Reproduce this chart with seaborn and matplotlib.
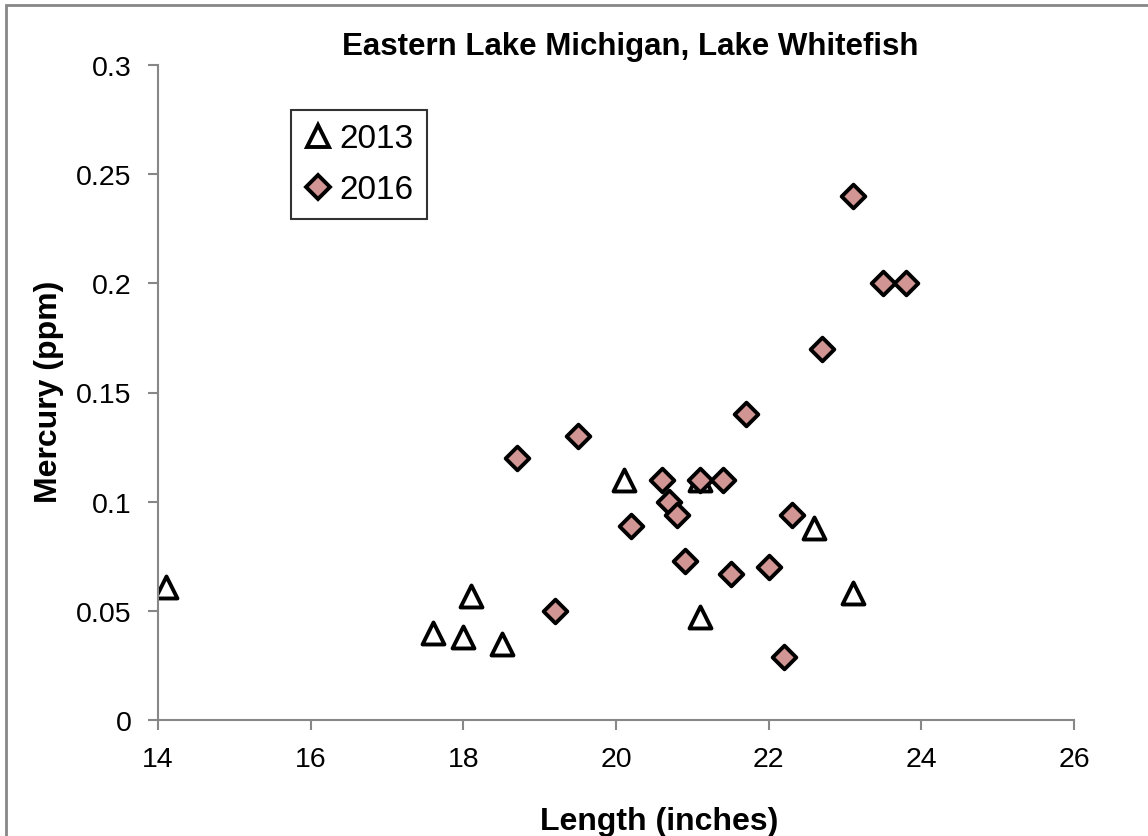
import matplotlib
matplotlib.use("Agg")
import matplotlib.pyplot as plt
import seaborn as sns
import pandas as pd
from matplotlib.lines import Line2D
from matplotlib.patches import Rectangle

# Data
len_2013 = [14.1, 17.6, 18.0, 18.1, 18.5, 20.1, 21.1, 21.1, 22.6, 23.1]
hg_2013 = [0.061, 0.040, 0.038, 0.057, 0.035, 0.110, 0.110, 0.047, 0.088, 0.058]
len_2016 = [18.7, 19.2, 19.5, 20.2, 20.6, 20.7, 20.8, 20.9, 21.1, 21.4,
            21.5, 21.7, 22.0, 22.2, 22.3, 22.7, 23.1, 23.5, 23.8]
hg_2016 = [0.120, 0.050, 0.130, 0.089, 0.110, 0.100, 0.094, 0.073, 0.110, 0.110,
           0.067, 0.140, 0.070, 0.029, 0.094, 0.170, 0.240, 0.200, 0.200]
series_labels = ["2013", "2016"]
x_ticks = [14, 16, 18, 20, 22, 24, 26]
y_ticks = [0, 0.05, 0.1, 0.15, 0.2, 0.25, 0.3]
y_tick_labels = ["0", "0.05", "0.1", "0.15", "0.2", "0.25", "0.3"]
title = "Eastern Lake Michigan, Lake Whitefish"
x_label = "Length (inches)"
y_label = "Mercury (ppm)"

sns.set_style("white")
plt.rcParams['font.family'] = ['Liberation Sans', 'DejaVu Sans']
plt.rcParams['text.color'] = 'black'

df13 = pd.DataFrame({"x": len_2013, "y": hg_2013})
df16 = pd.DataFrame({"x": len_2016, "y": hg_2016})

W, H = 1148, 837
fig = plt.figure(figsize=(W / 100, H / 100), dpi=100)
ax = fig.add_axes([158 / W, 1 - 721 / H, (1074 - 158) / W, (721 - 66) / H])

pink = "#D19594"
sns.scatterplot(data=df16, x="x", y="y", ax=ax, marker="D", s=145,
                color=pink, edgecolor="black", linewidth=2.8, zorder=3, legend=False)
sns.scatterplot(data=df13, x="x", y="y", ax=ax, marker="^", s=250,
                facecolor="white", edgecolor="black", linewidth=2.8, zorder=2, legend=False)

ax.set_xlim(14, 26)
ax.set_ylim(0, 0.3)
ax.set_xticks(x_ticks)
ax.set_xticklabels([str(t) for t in x_ticks])
ax.set_yticks(y_ticks)
ax.set_yticklabels(y_tick_labels)
ax.set_xlabel("")
ax.set_ylabel("")

gray = "#878787"
for side in ["top", "right"]:
    ax.spines[side].set_visible(False)
for side in ["left", "bottom"]:
    ax.spines[side].set_color(gray)
    ax.spines[side].set_linewidth(1.5)
ax.tick_params(axis="both", which="major", direction="out", length=7, width=1.5,
               color=gray, labelsize=20.5, labelcolor="black", pad=12)
ax.tick_params(left=True, bottom=True)

fig.text(630 / W, 1 - 55 / H, title, ha="center", va="baseline",
         fontsize=22.5, fontweight="bold", color="black")
fig.text(659 / W, 1 - 830 / H, x_label, ha="center", va="baseline",
         fontsize=23, fontweight="bold", color="black")
fig.text(49 / W, 1 - 392 / H, y_label, ha="center", va="center",
         rotation=90, fontsize=23, fontweight="bold", color="black")

handles = [
    Line2D([], [], linestyle="none", marker="^", markersize=16,
           markerfacecolor="white", markeredgecolor="black", markeredgewidth=2.8),
    Line2D([], [], linestyle="none", marker="D", markersize=12,
           markerfacecolor=pink, markeredgecolor="black", markeredgewidth=2.8),
]
leg = ax.legend(handles, series_labels, loc="upper left",
                bbox_to_anchor=((291 - 158) / (1074 - 158), 1 - (111 - 66) / (721 - 66)),
                frameon=True, fancybox=False, fontsize=24, handlelength=0.8,
                handletextpad=0.25, borderpad=0.4, labelspacing=0.6,
                borderaxespad=0)
leg.get_frame().set_edgecolor("black")
leg.get_frame().set_linewidth(1.5)
for t in leg.get_texts():
    t.set_color("black")

border = Rectangle((6 / W, -0.1), 1.2, 1.1 - 6 / H, transform=fig.transFigure,
                   fill=False, edgecolor=gray, linewidth=2)
fig.patches.append(border)

fig.savefig("out.png", dpi=100)
